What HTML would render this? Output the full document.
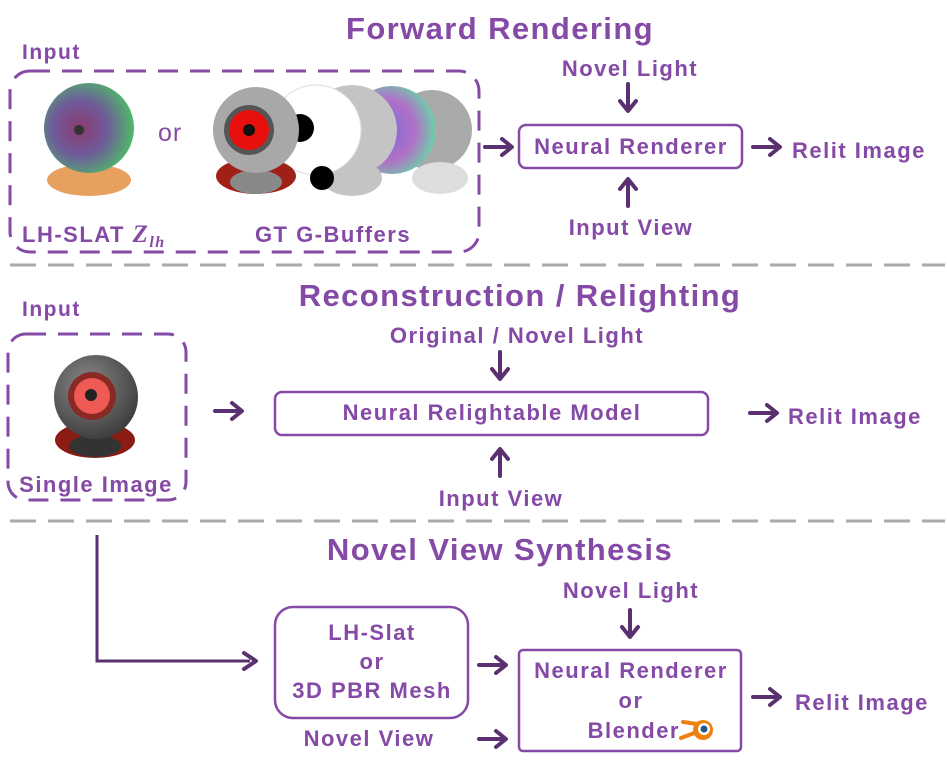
<!DOCTYPE html>
<html><head><meta charset="utf-8"><style>
html,body{margin:0;padding:0;background:#fff;}
svg text{font-family:"Liberation Sans",sans-serif;font-weight:bold;fill:#8549a6;}
.l{font-size:22px;letter-spacing:1.5px;}
.t{font-size:31px;letter-spacing:1.4px;}
</style></head><body>
<svg width="947" height="769" viewBox="0 0 947 769" xmlns="http://www.w3.org/2000/svg">
<defs>
<radialGradient id="vox" cx="0.4" cy="0.5" r="0.6"><stop offset="0" stop-color="#8a3c6e"/><stop offset="0.5" stop-color="#6f5a9a"/><stop offset="1" stop-color="#4fb86a"/></radialGradient>
<radialGradient id="gr" cx="0.4" cy="0.35" r="0.7"><stop offset="0" stop-color="#8a8a8a"/><stop offset="1" stop-color="#3a3a3a"/></radialGradient>
<radialGradient id="nrm" cx="0.4" cy="0.5" r="0.6"><stop offset="0" stop-color="#7a6ad8"/><stop offset="0.6" stop-color="#b070c8"/><stop offset="1" stop-color="#6ed0a8"/></radialGradient>
<g id="ar" fill="none" stroke="#5a3070" stroke-width="4" stroke-linecap="round" stroke-linejoin="round"><path d="M0 0 H26 M17 -8 L27 0 L17 8"/></g>
</defs>

<line x1="10" y1="265" x2="945" y2="265" stroke="#aaa" stroke-width="3" stroke-dasharray="26 12"/>
<line x1="10" y1="521" x2="945" y2="521" stroke="#aaa" stroke-width="3" stroke-dasharray="26 12"/>

<!-- Section 1 -->
<text x="500" y="39" class="t" text-anchor="middle">Forward Rendering</text>
<text x="22" y="59" font-size="21" letter-spacing="1.5">Input</text>
<rect x="10" y="71" width="469" height="181" rx="20" fill="none" stroke="#8549a6" stroke-width="3" stroke-dasharray="20 12"/>
<ellipse cx="89" cy="180" rx="42" ry="16" fill="#e8a060"/>
<circle cx="89" cy="128" r="45" fill="url(#vox)"/>
<circle cx="79" cy="130" r="5" fill="#333"/>
<text x="158" y="141" font-size="25" style="font-weight:normal" letter-spacing="1">or</text>
<circle cx="432" cy="130" r="40" fill="#aaa"/>
<ellipse cx="440" cy="178" rx="28" ry="16" fill="#ddd"/>
<circle cx="392" cy="130" r="44" fill="url(#nrm)"/>
<circle cx="352" cy="130" r="45" fill="#c4c4c4"/>
<ellipse cx="352" cy="178" rx="30" ry="18" fill="#c4c4c4"/>
<circle cx="316" cy="130" r="45" fill="#fff" stroke="#ddd"/>
<circle cx="300" cy="128" r="14" fill="#000"/>
<circle cx="322" cy="178" r="12" fill="#000"/>
<ellipse cx="256" cy="176" rx="40" ry="18" fill="#a02018"/>
<ellipse cx="256" cy="182" rx="26" ry="12" fill="#888"/>
<circle cx="256" cy="130" r="43" fill="#a8a8a8"/>
<circle cx="249" cy="130" r="25" fill="#555"/>
<circle cx="249" cy="130" r="20" fill="#e8100c"/>
<circle cx="249" cy="130" r="6" fill="#111"/>
<text x="22" y="242" class="l" letter-spacing="0.8">LH-SLAT <tspan font-family="Liberation Serif" font-style="italic" font-size="25">Z</tspan><tspan font-family="Liberation Serif" font-style="italic" font-size="16" dy="5">lh</tspan></text>
<text x="333" y="242" class="l" text-anchor="middle" letter-spacing="1">GT G-Buffers</text>

<text x="630" y="76" class="l" text-anchor="middle">Novel Light</text>
<use href="#ar" transform="translate(628,84) rotate(90)"/>
<rect x="519" y="125" width="223" height="43" rx="7" fill="none" stroke="#8549a6" stroke-width="2.5"/>
<text x="631" y="154" class="l" text-anchor="middle">Neural Renderer</text>
<use href="#ar" transform="translate(485,147)"/>
<use href="#ar" transform="translate(753,147)"/>
<text x="792" y="158" class="l">Relit Image</text>
<use href="#ar" transform="translate(628,206) rotate(-90)"/>
<text x="631" y="235" class="l" text-anchor="middle">Input View</text>

<!-- Section 2 -->
<text x="520" y="306" class="t" text-anchor="middle">Reconstruction / Relighting</text>
<text x="22" y="316" font-size="21" letter-spacing="1.5">Input</text>
<rect x="8" y="334" width="178" height="166" rx="18" fill="none" stroke="#8549a6" stroke-width="3" stroke-dasharray="20 12"/>
<ellipse cx="95" cy="440" rx="40" ry="18" fill="#8a1c14"/>
<ellipse cx="95" cy="446" rx="26" ry="11" fill="#333"/>
<circle cx="96" cy="397" r="42" fill="url(#gr)"/>
<circle cx="92" cy="396" r="24" fill="#8a2a24"/>
<circle cx="92" cy="396" r="18" fill="#ef5a55"/>
<circle cx="91" cy="395" r="6" fill="#222"/>
<text x="96" y="492" class="l" text-anchor="middle" letter-spacing="1">Single Image</text>
<text x="517" y="343" class="l" text-anchor="middle">Original / Novel  Light</text>
<use href="#ar" transform="translate(500,352) rotate(90)"/>
<rect x="275" y="392" width="433" height="43" rx="7" fill="none" stroke="#8549a6" stroke-width="2.5"/>
<text x="492" y="420" class="l" text-anchor="middle">Neural Relightable Model</text>
<use href="#ar" transform="translate(215,411)"/>
<use href="#ar" transform="translate(750,413)"/>
<text x="788" y="424" class="l">Relit Image</text>
<use href="#ar" transform="translate(500,476) rotate(-90)"/>
<text x="501" y="506" class="l" text-anchor="middle">Input View</text>

<!-- Section 3 -->
<text x="500" y="560" class="t" text-anchor="middle">Novel View Synthesis</text>
<path d="M97 535 V661 H250" fill="none" stroke="#5a3070" stroke-width="3"/>
<path d="M244 653 L256 661 L244 669" fill="none" stroke="#5a3070" stroke-width="4" stroke-linecap="round" stroke-linejoin="round"/>
<rect x="275" y="607" width="193" height="111" rx="18" fill="none" stroke="#8549a6" stroke-width="2.5"/>
<text x="372" y="640" class="l" text-anchor="middle">LH-Slat</text>
<text x="372" y="669" class="l" text-anchor="middle">or</text>
<text x="372" y="698" class="l" text-anchor="middle" letter-spacing="1">3D PBR Mesh</text>
<text x="369" y="746" class="l" text-anchor="middle">Novel View</text>
<use href="#ar" transform="translate(479,665)"/>
<use href="#ar" transform="translate(479,739)"/>
<text x="631" y="598" class="l" text-anchor="middle">Novel  Light</text>
<use href="#ar" transform="translate(630,610) rotate(90)"/>
<rect x="519" y="650" width="222" height="101" rx="4" fill="none" stroke="#8549a6" stroke-width="2.5"/>
<text x="631" y="678" class="l" text-anchor="middle">Neural Renderer</text>
<text x="631" y="708" class="l" text-anchor="middle">or</text>
<text x="680" y="738" class="l" text-anchor="end">Blender</text>
<g transform="translate(703,730)">
<path d="M-20 -8 L-6 -6 M-22 8 L-6 2" stroke="#ee7f10" stroke-width="4" stroke-linecap="round"/>
<circle cx="0" cy="0" r="10" fill="#ee7f10"/>
<circle cx="1" cy="-1" r="6" fill="#fff"/>
<circle cx="1" cy="-1" r="3.5" fill="#265787"/>
</g>
<use href="#ar" transform="translate(753,697)"/>
<text x="795" y="710" class="l">Relit Image</text>
</svg>
</body></html>
